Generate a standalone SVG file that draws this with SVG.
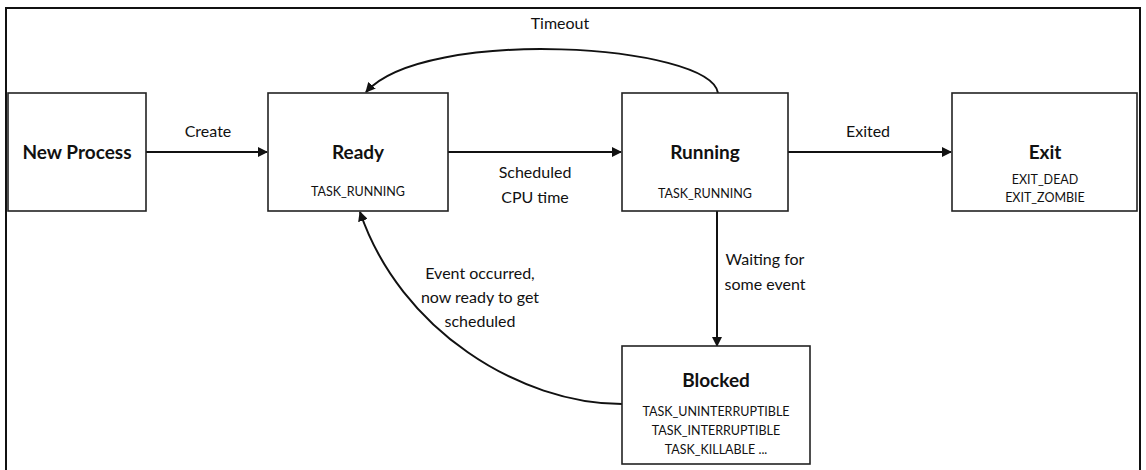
<svg xmlns="http://www.w3.org/2000/svg" width="1146" height="470" viewBox="0 0 1146 470">
<style>
.box{fill:#fff;stroke:#222;stroke-width:1.6}
.t{font-family:Lato,"Liberation Sans",sans-serif;fill:#111;text-anchor:middle}
.b{font-weight:bold;font-size:19px}
.s{font-size:12.5px}
.l{font-size:16px}
.c{fill:none;stroke:#111;stroke-width:2}
</style>
<defs>
<marker id="ah" viewBox="0 0 10 10" refX="9" refY="5" markerWidth="5" markerHeight="5" orient="auto" markerUnits="strokeWidth">
<path d="M0,0 L10,5 L0,10 z" fill="#111"/>
</marker>
</defs>
<rect x="0" y="0" width="1146" height="470" fill="#fff"/>
<rect x="6" y="8" width="1134" height="480" fill="none" stroke="#111" stroke-width="2"/>
<g id="connectors">
<line class="c" x1="146" y1="152" x2="267" y2="152" marker-end="url(#ah)"/>
<line class="c" x1="448" y1="152" x2="621" y2="152" marker-end="url(#ah)"/>
<line class="c" x1="788" y1="152" x2="951" y2="152" marker-end="url(#ah)"/>
<line class="c" x1="717" y1="211" x2="717" y2="346" marker-end="url(#ah)"/>
<path class="c" d="M718,93 C710,44 425,26 366,92" marker-end="url(#ah)"/>
<path class="c" d="M622,404 C520,404 400,330 360,212" marker-end="url(#ah)"/>
<text class="t l" x="208" y="137">Create</text>
<text class="t l" x="535" y="178">Scheduled</text>
<text class="t l" x="535" y="203">CPU time</text>
<text class="t l" x="868" y="137">Exited</text>
<text class="t l" x="560" y="29">Timeout</text>
<text class="t l" x="765" y="265">Waiting for</text>
<text class="t l" x="765" y="290">some event</text>
<text class="t l" x="480" y="279">Event occurred,</text>
<text class="t l" x="480" y="303">now ready to get</text>
<text class="t l" x="480" y="327">scheduled</text>
</g>
<g id="new-process">
<rect class="box" x="8" y="93" width="138" height="118"/>
<text class="t b" x="77" y="159">New Process</text>
</g>
<g id="ready">
<rect class="box" x="268" y="93" width="180" height="118"/>
<text class="t b" x="358" y="159">Ready</text>
<text class="t s" x="358" y="196">TASK_RUNNING</text>
</g>
<g id="running">
<rect class="box" x="622" y="93" width="166" height="118"/>
<text class="t b" x="705" y="159">Running</text>
<text class="t s" x="705" y="198">TASK_RUNNING</text>
</g>
<g id="exit">
<rect class="box" x="952" y="93" width="185" height="118"/>
<text class="t b" x="1045" y="159">Exit</text>
<text class="t s" x="1045" y="184">EXIT_DEAD</text>
<text class="t s" x="1045" y="202">EXIT_ZOMBIE</text>
</g>
<g id="blocked">
<rect class="box" x="622" y="346" width="188" height="118"/>
<text class="t b" x="716" y="387">Blocked</text>
<text class="t s" x="716" y="416">TASK_UNINTERRUPTIBLE</text>
<text class="t s" x="716" y="435">TASK_INTERRUPTIBLE</text>
<text class="t s" x="716" y="454">TASK_KILLABLE ...</text>
</g>
</svg>
